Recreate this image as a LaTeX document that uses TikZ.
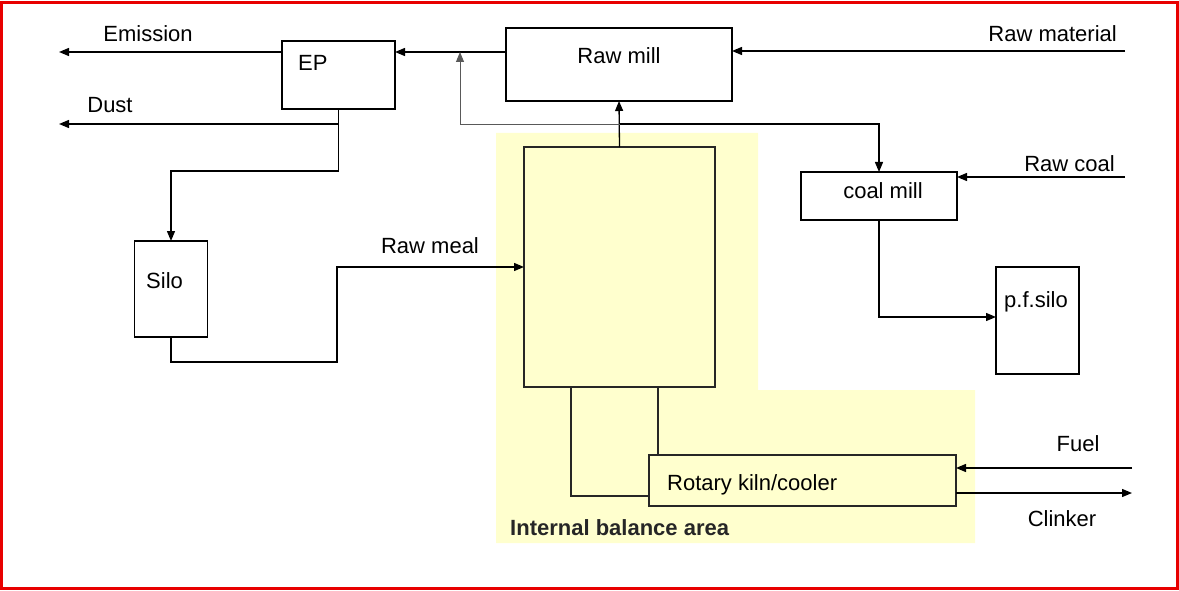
\documentclass[tikz,border=0pt]{standalone}
\usepackage{fontspec}
\setmainfont{Liberation Sans}
\usetikzlibrary{arrows.meta}

\definecolor{areayellow}{RGB}{255,255,206}
\definecolor{framered}{RGB}{232,0,0}

\begin{document}
\begin{tikzpicture}[
    x=1pt, y=-1pt,
    >={Triangle[length=10pt, width=8pt]},
    font=\fontsize{22}{26}\selectfont,
    unit/.style={
        draw, line width=1.3pt,
        inner sep=0pt, outer sep=0pt,
    },
    flow/.style={->, line width=1.3pt},
    link/.style={line width=1.3pt, draw=black!85},
    tag/.style={inner sep=0pt, anchor=base},
]

\useasboundingbox (0,0) rectangle (1179,591);

\def\yTop{52}
\def\yMid{124}

% internal balance area
\fill[areayellow] (496,133) -- (758,133) -- (758,390) -- (975,390)
    -- (975,543) -- (496,543) -- cycle;

\node[unit, minimum width=113pt, minimum height=68pt] (ep) at (338.5,75) {};
\node[unit, minimum width=226pt, minimum height=73pt] (rawmill) at (619,64.5) {};
\node[unit, minimum width=73pt, minimum height=96pt] (silo) at (171,289) {};
\node[unit, fill=areayellow, draw=black!85, minimum width=191pt, minimum height=240pt] (tower) at (619.5,267) {};
\node[unit, minimum width=156pt, minimum height=48pt] (coalmill) at (879,196) {};
\node[unit, minimum width=83pt, minimum height=107pt] (pfsilo) at (1037.5,320.5) {};
\node[unit, draw=black!85, minimum width=307pt, minimum height=51pt] (kiln) at (802.5,480.5) {};

\node[tag, anchor=base west] (ep-t) at (298,71) {EP};
\node[tag] (rawmill-t) at (619,64) {Raw mill};
\node[tag, anchor=base west] (silo-t) at (146,288) {Silo};
\node[tag] (coalmill-t) at (883,199) {coal mill};
\node[tag] (pfsilo-t) at (1036,307) {p.f.silo};
\node[tag, anchor=base west] (kiln-t) at (667,490) {Rotary kiln/cooler};

\node[tag] (emission-t) at (148,42) {Emission};
\node[tag] (dust-t) at (110,113) {Dust};
\node[tag] (meal-t) at (430,253) {Raw meal};
\node[tag, anchor=base east] (rawmat-t) at (1117,42) {Raw material};
\node[tag, anchor=base east] (rawcoal-t) at (1115,172) {Raw coal};
\node[tag] (fuel-t) at (1078,451) {Fuel};
\node[tag] (clinker-t) at (1062,526) {Clinker};
\node[tag, anchor=base west, font=\fontsize{22}{26}\selectfont\bfseries, text=black!85] (area-t) at (510,535) {Internal balance area};

\coordinate (emission) at (59,\yTop);
\coordinate (dust) at (59,\yMid);
\coordinate (epjoin) at (460,\yTop);
\coordinate (meal) at (337,267);
\coordinate (rawmat) at (1125,51);
\coordinate (rawcoal) at (1125,177);
\coordinate (fuel) at (1132,468);
\coordinate (clinker) at (1132,493);

% gas and dust
\draw[flow] (rawmill.west |- 0,\yTop) -- (ep.east |- 0,\yTop);
\draw[flow] (ep.west |- 0,\yTop) -- (emission);
\draw[flow] (ep.south) |- (dust);
\draw[flow] (ep.south) -- ++(0,62) -| (silo.north);
\draw[flow] (silo.south) -- ++(0,25) -| (meal) -- (tower.west |- meal);

% hot gas branches
\draw[flow] (tower.north) -- (rawmill.south);
\draw[flow, line width=0.9pt, draw=black!65] (tower.north |- 0,\yMid) -| (epjoin);
\draw[flow] (tower.north |- 0,\yMid) -| (coalmill.north);
\draw[flow] (coalmill.south) |- (pfsilo.west |- 0,317);

% inputs and outputs
\draw[flow] (rawmat) -- (rawmill.east |- rawmat);
\draw[flow] (rawcoal) -- (coalmill.east |- rawcoal);
\draw[flow] (fuel) -- (kiln.east |- fuel);
\draw[flow] (kiln.east |- clinker) -- (clinker);

% tower to kiln
\draw[link] (tower.south -| 571,0) |- (kiln.west |- 0,496);
\draw[link] (tower.south -| 658,0) -- (kiln.north -| 658,0);

\draw[framered, line width=2.5pt] (1.5,2.5) rectangle (1177.5,588.5);

\end{tikzpicture}
\end{document}
